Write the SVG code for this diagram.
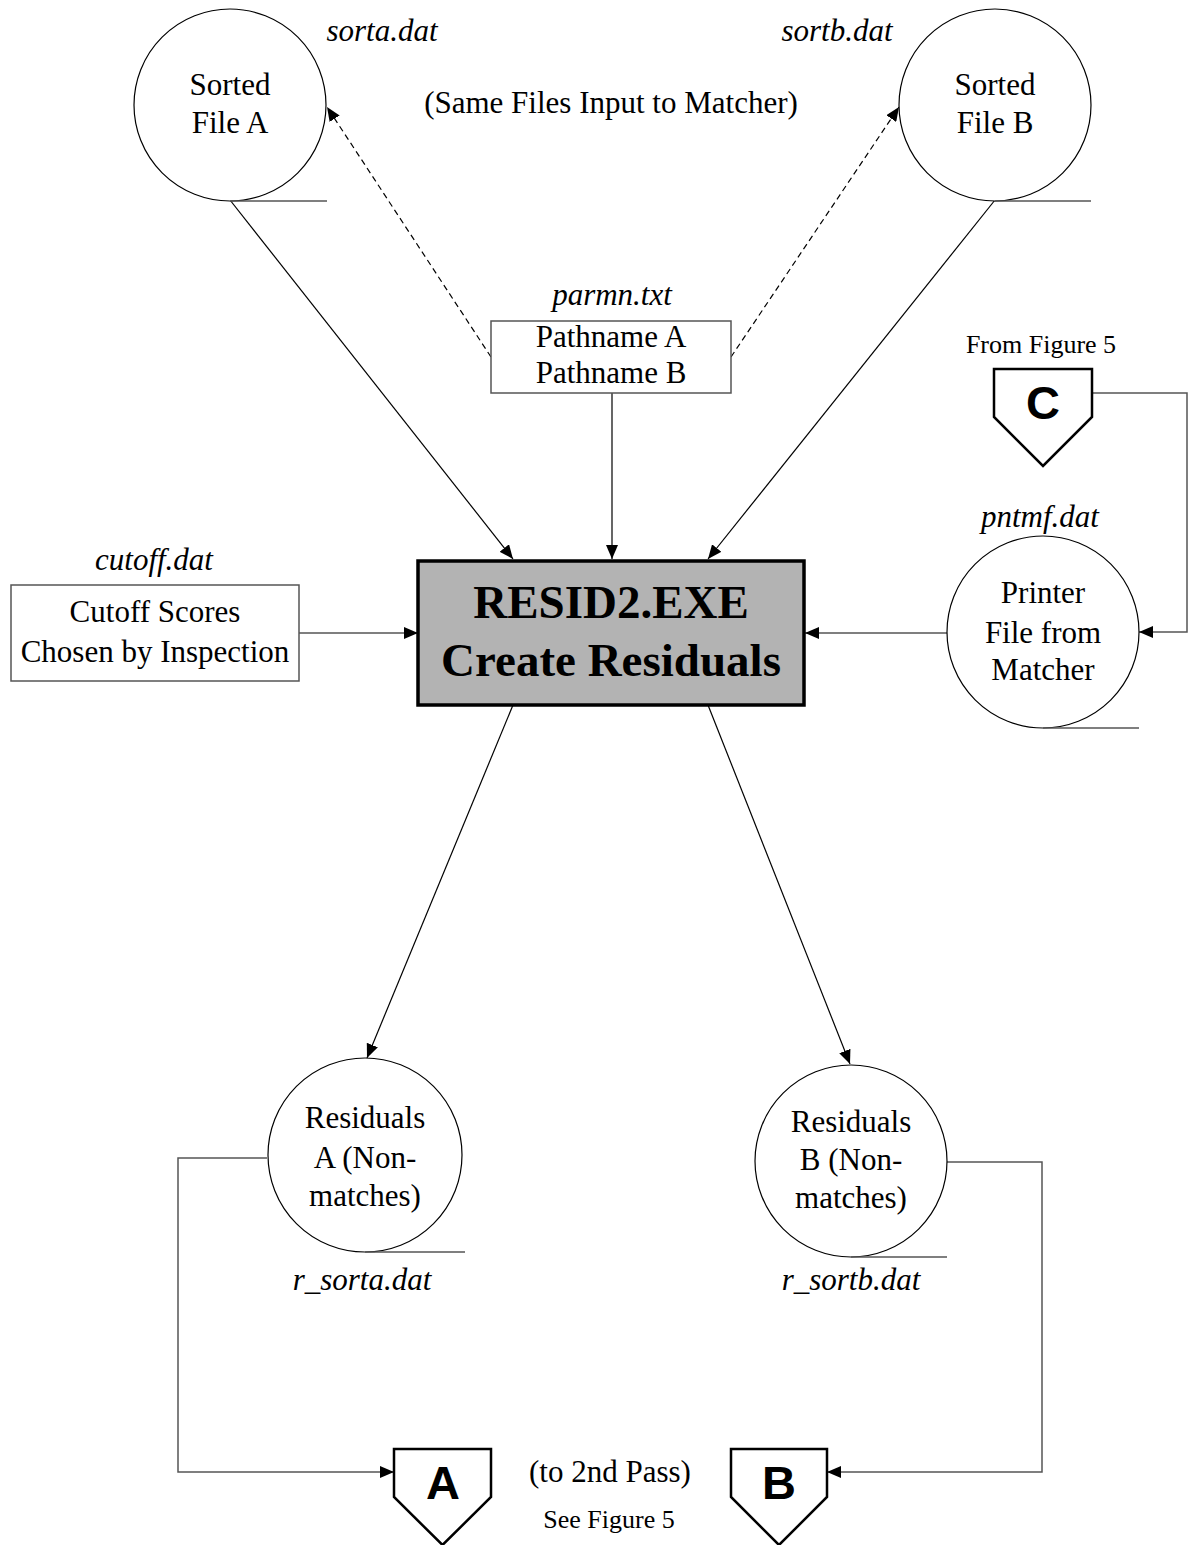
<svg xmlns="http://www.w3.org/2000/svg" width="1193" height="1545" viewBox="0 0 1193 1545">
  <style>
    .lbl { font-family: "Liberation Serif", "Times New Roman", serif; font-size: 31px; fill: #000; text-anchor: middle; }
    .file { font-family: "Liberation Serif", "Times New Roman", serif; font-size: 31px; font-style: italic; fill: #000; text-anchor: middle; }
    .small { font-family: "Liberation Serif", "Times New Roman", serif; font-size: 26px; fill: #000; text-anchor: middle; }
    .title { font-family: "Liberation Serif", "Times New Roman", serif; font-size: 47px; font-weight: bold; fill: #000; text-anchor: middle; }
    .off { font-family: "Liberation Sans", Arial, sans-serif; font-size: 47px; font-weight: bold; fill: #000; text-anchor: middle; }
    .store { fill: #fff; stroke: #000; stroke-width: 1.2; }
    .tail { fill: none; stroke: #555; stroke-width: 1.5; }
    .box { fill: #fff; stroke: #555; stroke-width: 1.5; }
    .proc { fill: #b3b3b3; stroke: #000; stroke-width: 3.5; }
    .pent { fill: #fff; stroke: #000; stroke-width: 2.5; }
    .edge { fill: none; stroke: #000; stroke-width: 1.2; }
    .dash { fill: none; stroke: #000; stroke-width: 1.2; stroke-dasharray: 6 4; }
    .route { fill: none; stroke: #555; stroke-width: 1.5; }
  </style>
  <defs>
    <marker id="arrow" viewBox="0 0 14 12" refX="14" refY="6" markerWidth="14" markerHeight="12" markerUnits="userSpaceOnUse" orient="auto">
      <path d="M0,0 L14,6 L0,12 Z" fill="#000"/>
    </marker>
  </defs>

  <rect width="1193" height="1545" fill="#fff"/>

  <!-- connectors -->
  <g id="connectors">
    <line class="edge" x1="230" y1="200" x2="513" y2="559" marker-end="url(#arrow)"/>
    <line class="edge" x1="612" y1="393" x2="612" y2="559" marker-end="url(#arrow)"/>
    <line class="edge" x1="995" y1="200" x2="708" y2="559" marker-end="url(#arrow)"/>
    <line class="dash" x1="491" y1="357" x2="327" y2="107" marker-end="url(#arrow)"/>
    <line class="dash" x1="731" y1="357" x2="899" y2="107" marker-end="url(#arrow)"/>
    <line class="edge" x1="299" y1="633" x2="418" y2="633" marker-end="url(#arrow)"/>
    <line class="edge" x1="947" y1="633" x2="805" y2="633" marker-end="url(#arrow)"/>
    <polyline class="route" points="1092,393 1187,393 1187,632 1139,632" marker-end="url(#arrow)"/>
    <line class="edge" x1="513" y1="705" x2="367" y2="1058" marker-end="url(#arrow)"/>
    <line class="edge" x1="708" y1="705" x2="850" y2="1064" marker-end="url(#arrow)"/>
    <polyline class="route" points="267,1158 178,1158 178,1472 394,1472" marker-end="url(#arrow)"/>
    <polyline class="route" points="947,1162 1042,1162 1042,1472 827,1472" marker-end="url(#arrow)"/>
  </g>

  <text class="lbl" x="611" y="113">(Same Files Input to Matcher)</text>

  <!-- sorted file A -->
  <g id="sorted-a">
    <circle class="store" cx="230" cy="105" r="96"/>
    <line class="tail" x1="230" y1="201" x2="327" y2="201"/>
    <text class="file" x="382" y="41">sorta.dat</text>
    <text class="lbl" x="230" y="95">Sorted</text>
    <text class="lbl" x="230" y="133">File A</text>
  </g>

  <!-- sorted file B -->
  <g id="sorted-b">
    <circle class="store" cx="995" cy="105" r="96"/>
    <line class="tail" x1="995" y1="201" x2="1091" y2="201"/>
    <text class="file" x="837" y="41">sortb.dat</text>
    <text class="lbl" x="995" y="95">Sorted</text>
    <text class="lbl" x="995" y="133">File B</text>
  </g>

  <!-- parameter file -->
  <g id="parmn">
    <text class="file" x="612" y="305">parmn.txt</text>
    <rect class="box" x="491" y="321" width="240" height="72"/>
    <text class="lbl" x="611" y="347">Pathname A</text>
    <text class="lbl" x="611" y="383">Pathname B</text>
  </g>

  <!-- off-page connector C -->
  <g id="conn-c">
    <text class="small" x="1041" y="353">From Figure 5</text>
    <path class="pent" d="M994,369 H1092 V417 L1043,466 L994,417 Z"/>
    <text class="off" x="1043" y="419">C</text>
  </g>

  <!-- cutoff scores -->
  <g id="cutoff">
    <text class="file" x="154" y="570">cutoff.dat</text>
    <rect class="box" x="11" y="585" width="288" height="96"/>
    <text class="lbl" x="155" y="622">Cutoff Scores</text>
    <text class="lbl" x="155" y="662">Chosen by Inspection</text>
  </g>

  <!-- main process -->
  <g id="resid2">
    <rect class="proc" x="418" y="561" width="386" height="144"/>
    <text class="title" x="611" y="618">RESID2.EXE</text>
    <text class="title" x="611" y="676">Create Residuals</text>
  </g>

  <!-- printer file -->
  <g id="pntmf">
    <text class="file" x="1040" y="527">pntmf.dat</text>
    <circle class="store" cx="1043" cy="632" r="96"/>
    <line class="tail" x1="1043" y1="728" x2="1139" y2="728"/>
    <text class="lbl" x="1043" y="603">Printer</text>
    <text class="lbl" x="1043" y="643">File from</text>
    <text class="lbl" x="1043" y="680">Matcher</text>
  </g>

  <!-- residuals A -->
  <g id="resid-a">
    <circle class="store" cx="365" cy="1155" r="97"/>
    <line class="tail" x1="365" y1="1252" x2="465" y2="1252"/>
    <text class="lbl" x="365" y="1128">Residuals</text>
    <text class="lbl" x="365" y="1168">A (Non-</text>
    <text class="lbl" x="365" y="1206">matches)</text>
    <text class="file" x="362" y="1290">r_sorta.dat</text>
  </g>

  <!-- residuals B -->
  <g id="resid-b">
    <circle class="store" cx="851" cy="1161" r="96"/>
    <line class="tail" x1="851" y1="1257" x2="947" y2="1257"/>
    <text class="lbl" x="851" y="1132">Residuals</text>
    <text class="lbl" x="851" y="1170">B (Non-</text>
    <text class="lbl" x="851" y="1208">matches)</text>
    <text class="file" x="851" y="1290">r_sortb.dat</text>
  </g>

  <!-- off-page connectors A and B -->
  <g id="conn-a">
    <path class="pent" d="M394,1449 H491 V1497 L442.5,1545 L394,1497 Z"/>
    <text class="off" x="443" y="1499">A</text>
  </g>
  <g id="conn-b">
    <path class="pent" d="M731,1449 H827 V1497 L779,1545 L731,1497 Z"/>
    <text class="off" x="779" y="1499">B</text>
  </g>
  <g id="pass-note">
    <text class="lbl" x="610" y="1482">(to 2nd Pass)</text>
    <text class="small" x="609" y="1528">See Figure 5</text>
  </g>
</svg>
